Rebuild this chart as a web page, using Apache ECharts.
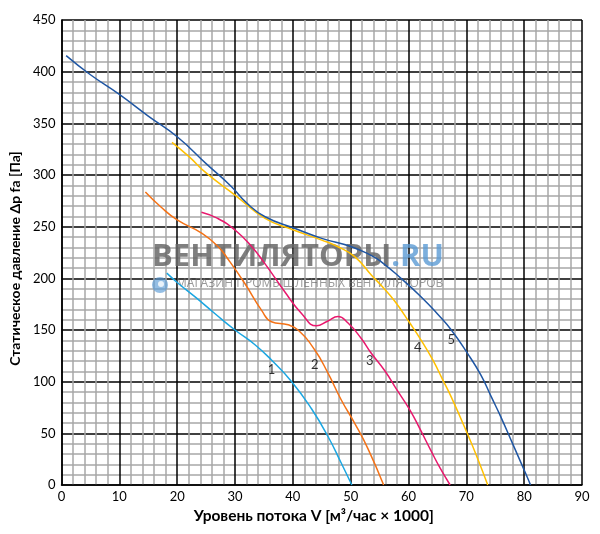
<!DOCTYPE html>
<html><head><meta charset="utf-8">
<script src="https://cdn.jsdelivr.net/npm/echarts@6/dist/echarts.min.js"></script>
<style>html,body{margin:0;padding:0;background:#fff}#c{width:600px;height:534px}</style>
</head><body><div id="c"></div>
<script>
var curve1 = [[18.2,205],[20,196],[23.1,182],[26.5,166],[30,150],[33.4,136],[36.3,121],[39.8,100],[43.2,74],[46.1,46.7],[48.3,22],[50.2,0]];
var curve2 = [[14.5,283.5],[17,270],[20,256.5],[24.3,243.6],[27.1,230.6],[28.9,217.7],[31.7,195],[34.6,169],[36.3,158],[39.2,155],[40.9,150],[43.8,130.6],[46.1,108],[48.4,82],[50.7,59.7],[53,35],[55.7,0]];
var curve3 = [[24.2,264],[27,258],[30,246.8],[32.9,230.6],[35.2,214],[38.6,187],[41.5,166],[44.1,154],[46,158.5],[47.8,163],[49.5,157],[51.8,142],[53.5,128],[55.9,110.6],[58,92],[60.2,73],[62,54],[63.9,33],[65.5,16],[67.2,0]];
var curve4 = [[19.1,331.6],[22,318],[25,302],[30,280.6],[35.2,258],[40,247],[45,237],[47.8,230.6],[50.7,221],[53.6,203],[55.3,193],[57.6,178],[60.2,157],[62.2,140],[64.2,121],[65.9,102],[67.4,85],[70.2,49.4],[72,25],[73.7,0]];
var curve5 = [[0.8,415.5],[5,397],[10,378],[15,357],[20,337],[25,311],[29.4,288.7],[32,273],[35.2,259.6],[40.3,248.4],[45,238.7],[50.1,230.6],[53.6,222],[55.3,216],[58.7,200],[62.2,182],[65.1,165],[67.4,150],[70.2,127.4],[72.5,106.5],[74.3,85.5],[76,65.5],[78,40],[80.3,10.6],[81.1,0]];
var curveLabels = [[36.3,111,'1'],[43.8,116,'2'],[53.3,120,'3'],[61.6,133,'4'],[67.4,140.5,'5']];
var colors = ['#1ba6e1','#f47216','#e8186d','#ffc000','#1f56a3'];
var xTitle = 'Уровень потока V [м³/час × 1000]';
var yTitle = 'Статическое давление Δp fa [Па]';

var chart = echarts.init(document.getElementById('c'));
var FONT = 'Lato';
function lineSeries(d, c) {
  return {type:'line', data:d, smooth:0.5, showSymbol:false, symbol:'none',
    lineStyle:{color:c, width:1.5}, z:3, silent:true};
}
var series = [curve1,curve2,curve3,curve4,curve5].map(function(d,i){return lineSeries(d, colors[i]);});
series.push({type:'scatter', data:curveLabels, symbolSize:0, z:4, silent:true,
  label:{show:true, position:'inside', formatter:function(p){return p.data[2];}, color:'#000', fontSize:13, fontFamily:FONT}});

chart.setOption({
  animation:false,
  textStyle:{fontFamily:FONT},
  grid:{left:59, right:18, top:20, bottom:49, containLabel:false},
  xAxis:{type:'value', min:0, max:90, interval:10,
    name:xTitle, nameLocation:'middle', nameGap:23,
    nameTextStyle:{fontSize:15.5, fontWeight:'bold', color:'#000', fontFamily:FONT, padding:[0,16,0,0]},
    axisLine:{show:true, lineStyle:{color:'#000', width:1.5}},
    axisTick:{show:false},
    axisLabel:{color:'#000', fontSize:13, margin:5, fontFamily:FONT},
    splitLine:{show:true, lineStyle:{color:'#000', width:1.5}},
    minorTick:{show:false, splitNumber:5},
    minorSplitLine:{show:true, lineStyle:{color:'#a8a8a8', width:1.5}}
  },
  yAxis:{type:'value', min:0, max:450, interval:50,
    name:yTitle, nameLocation:'middle', nameGap:35, nameRotate:90,
    nameTextStyle:{fontSize:14, fontWeight:'bold', color:'#000', fontFamily:FONT, padding:[0,12,0,0]},
    axisLine:{show:true, lineStyle:{color:'#000', width:1.5}},
    axisTick:{show:false},
    axisLabel:{color:'#000', fontSize:13, margin:6, fontFamily:FONT},
    splitLine:{show:true, lineStyle:{color:'#000', width:1.5}},
    minorTick:{show:false, splitNumber:5},
    minorSplitLine:{show:true, lineStyle:{color:'#a8a8a8', width:1.5}}
  },
  graphic:[
    {type:'text', left:152, top:242, z:1, silent:true,
      style:{text:'{a|ВЕНТИЛЯТОРЫ}{b|.RU}', rich:{
        a:{fontSize:31, fontWeight:'bold', fontFamily:'Open Sans', fill:'rgba(105,105,105,0.85)'},
        b:{fontSize:31, fontWeight:'bold', fontFamily:'Open Sans', fill:'rgba(91,155,213,0.8)'}}}},
    {type:'circle', z:1, silent:true, shape:{cx:160, cy:285, r:8}, style:{fill:'rgba(91,155,213,0.65)'}},
    {type:'circle', z:1, silent:true, shape:{cx:161, cy:284, r:3}, style:{fill:'rgba(255,255,255,0.8)'}},
    {type:'text', left:176, top:278, z:1, silent:true,
      style:{text:'МАГАЗИН ПРОМЫШЛЕННЫХ ВЕНТИЛЯТОРОВ', fontSize:12, fontFamily:'Open Sans', fill:'rgba(105,105,105,0.68)'}}
  ],
  series:series
});
</script></body></html>
